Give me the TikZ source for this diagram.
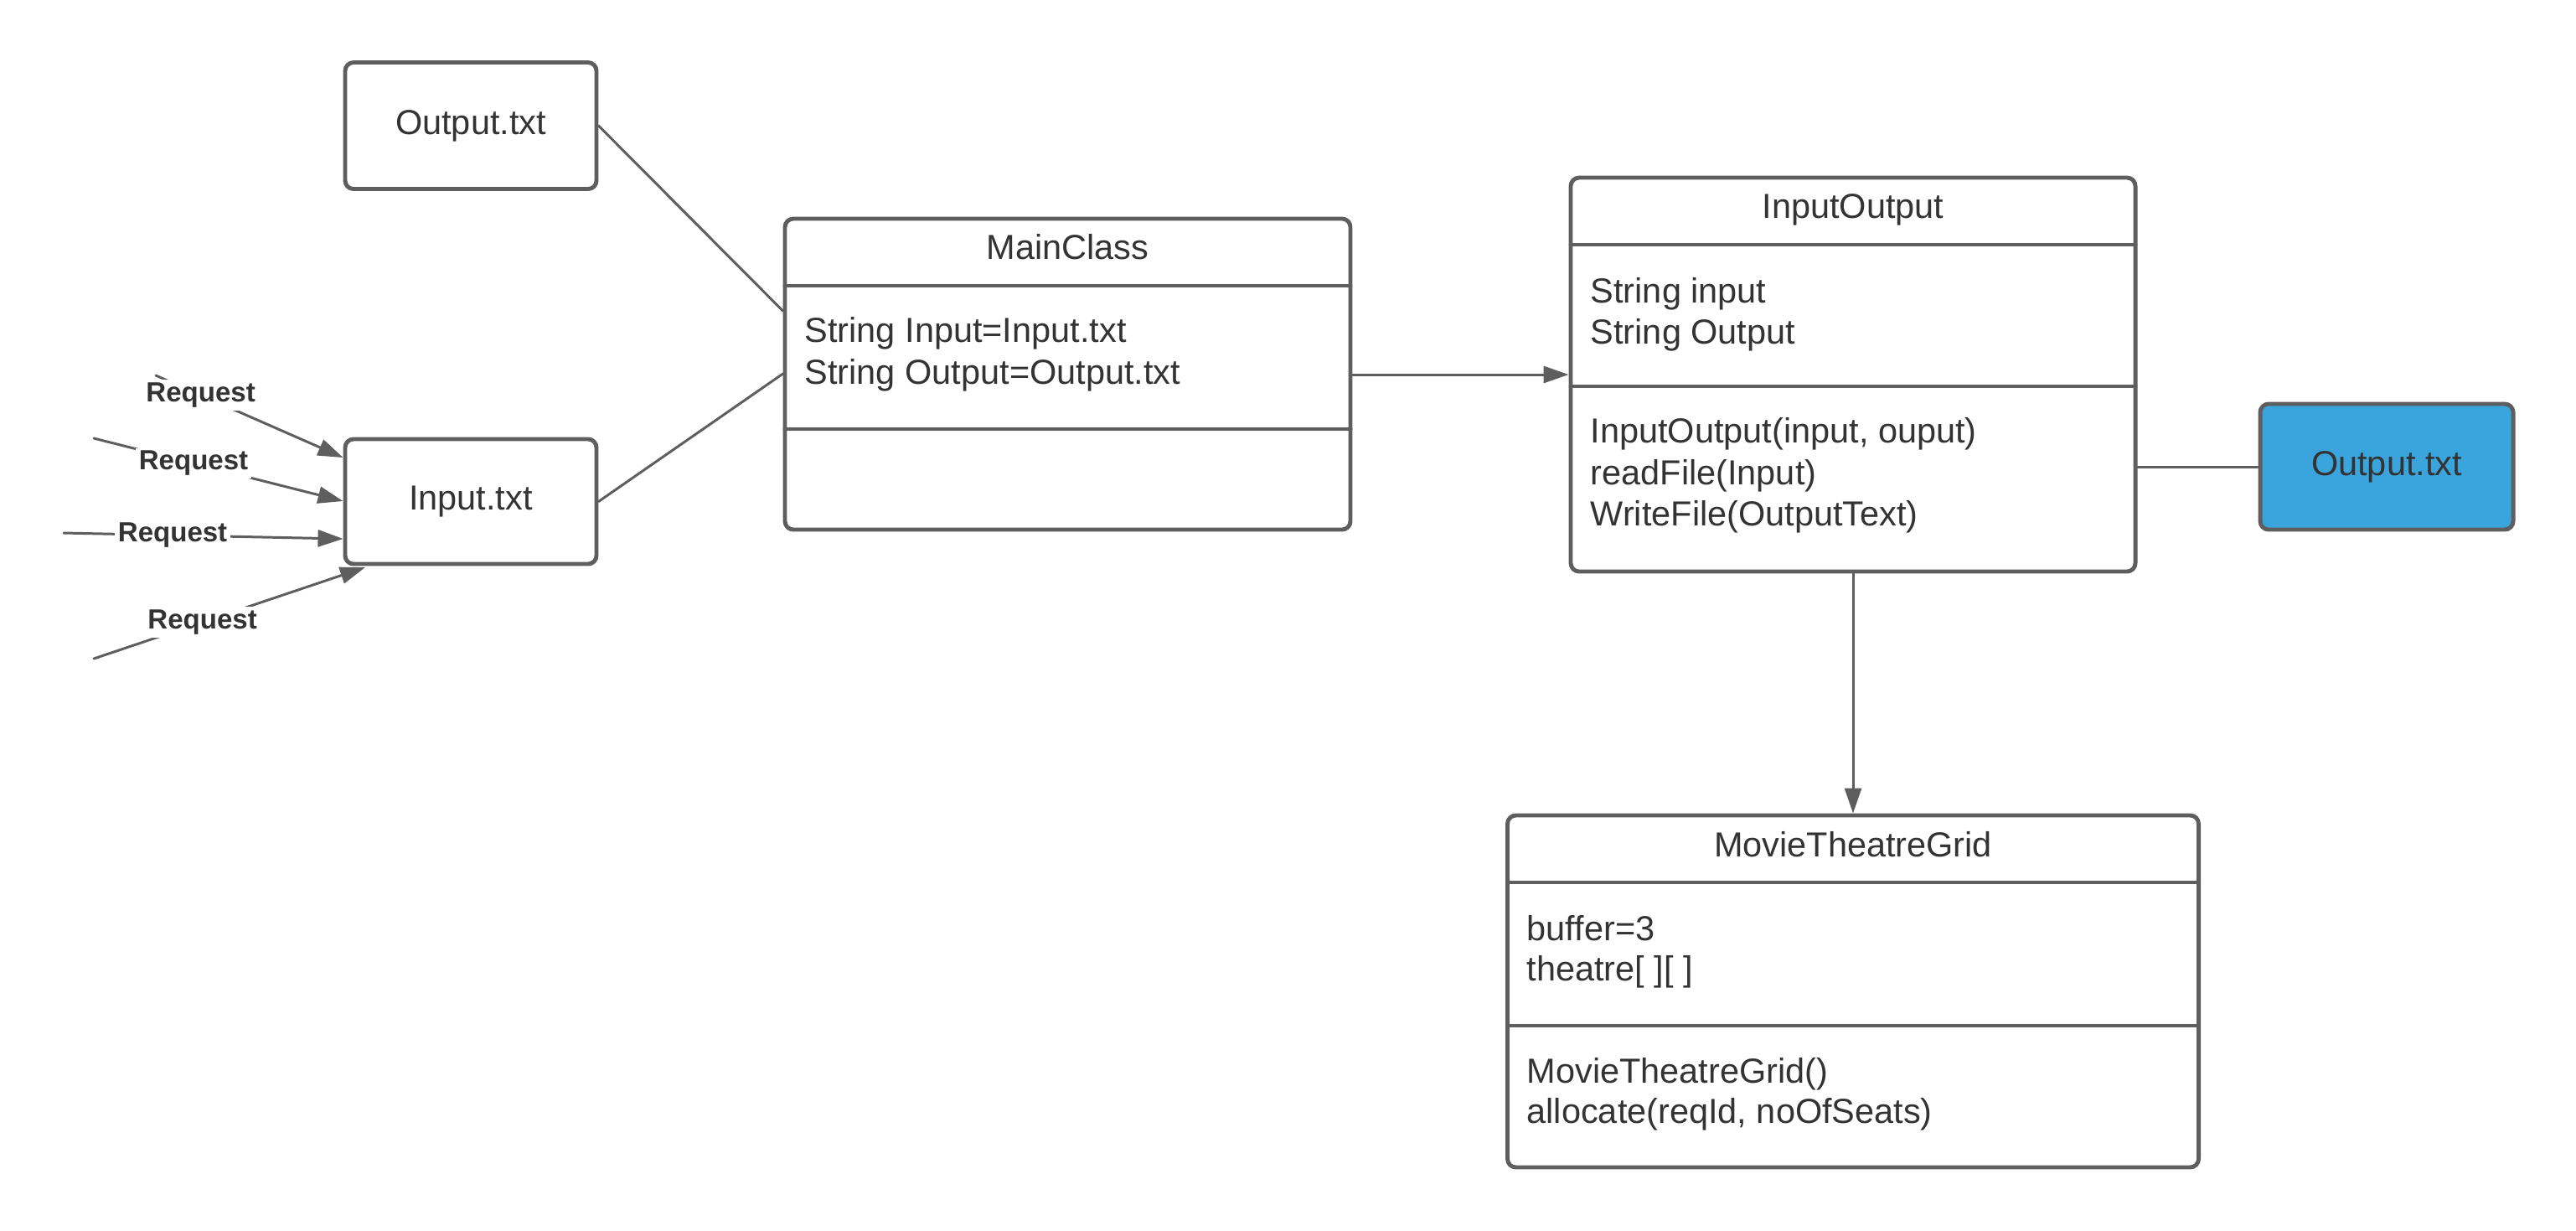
\documentclass[tikz,border=0pt]{standalone}
\usepackage{fontspec}
\setmainfont{Liberation Sans}
\usetikzlibrary{arrows.meta}
\definecolor{linegray}{RGB}{94, 94, 94}
\definecolor{textgray}{RGB}{51, 51, 51}
\definecolor{fileblue}{RGB}{58, 164, 220}
\tikzset{
	box/.style={draw=linegray, line width=1.4pt, rounded corners=0.1cm, inner sep=0pt},
	boxtext/.style={text=textgray, font=\fontsize{11.8}{14}\selectfont},
	member/.style={boxtext, anchor=base west, inner sep=0pt},
	divider/.style={draw=linegray, line width=1.4pt},
	link/.style={draw=linegray, line width=0.85pt},
	req/.style={text=textgray, font=\bfseries\fontsize{9.4}{11}\selectfont, fill=white, inner sep=1pt}
}
\begin{document}
\begin{tikzpicture}[>={Triangle[length=0.3cm, width=0.2cm]}, line cap=round, line join=round, y=-1cm]
			\useasboundingbox (0, 0) rectangle (30.75, 14.68);
			% files
			\node[box, boxtext, minimum width=3cm, minimum height=1.51cm] (outfile) at (5.62, 1.5) {Output.txt};
			\node[box, boxtext, minimum width=3cm, minimum height=1.49cm] (infile) at (5.62, 5.985) {Input.txt};
			\node[box, boxtext, fill=fileblue, minimum width=3.02cm, minimum height=1.5cm] (result) at (28.49, 5.57) {Output.txt};
			% MainClass
			\node[box, minimum width=6.75cm, minimum height=3.71cm] (main) at (12.745, 4.465) {};
			\node[boxtext, anchor=base] (maintitle) at (12.745, 3.09) {MainClass};
			\draw[divider] (9.37, 3.41) -- (16.12, 3.41);
			\draw[divider] (9.37, 5.12) -- (16.12, 5.12);
			\node[member] (mainin) at (9.6, 4.08) {String Input=Input.txt};
			\node[member] (mainout) at (9.6, 4.58) {String Output=Output.txt};
			% InputOutput
			\node[box, minimum width=6.74cm, minimum height=4.7cm] (io) at (22.12, 4.47) {};
			\node[boxtext, anchor=base] (iotitle) at (22.12, 2.6) {InputOutput};
			\draw[divider] (18.75, 2.92) -- (25.49, 2.92);
			\draw[divider] (18.75, 4.61) -- (25.49, 4.61);
			\node[member] (ioin) at (18.98, 3.61) {String input};
			\node[member] (ioout) at (18.98, 4.1) {String Output};
			\node[member] (ioctor) at (18.98, 5.28) {InputOutput(input, ouput)};
			\node[member] (ioread) at (18.98, 5.78) {readFile(Input)};
			\node[member] (iowrite) at (18.98, 6.27) {WriteFile(OutputText)};
			% MovieTheatreGrid
			\node[box, minimum width=8.25cm, minimum height=4.2cm] (grid) at (22.12, 11.83) {};
			\node[boxtext, anchor=base] (gridtitle) at (22.12, 10.22) {MovieTheatreGrid};
			\draw[divider] (17.995, 10.53) -- (26.245, 10.53);
			\draw[divider] (17.995, 12.24) -- (26.245, 12.24);
			\node[member] (gridbuf) at (18.22, 11.22) {buffer=3};
			\node[member] (gridseats) at (18.22, 11.7) {theatre[ ][ ]};
			\node[member] (gridctor) at (18.22, 12.92) {MovieTheatreGrid()};
			\node[member] (gridalloc) at (18.22, 13.4) {allocate(reqId, noOfSeats)};
			% connectors
			\draw[link] (outfile.east) -- (main.west |- 0, 3.71);
			\draw[link] (infile.east) -- (main.west |- 0, 4.46);
			\draw[link, ->] (main.east |- 0, 4.47) -- (io.west |- 0, 4.47);
			\draw[link] (io.east |- 0, 5.57) -- (result.west);
			\draw[link, ->] (io.south) -- (grid.north);
			% requests
			\coordinate (r1) at (1.86, 4.48);
			\coordinate (r2) at (1.12, 5.23);
			\coordinate (r3) at (0.76, 6.36);
			\coordinate (r4) at (1.12, 7.86);
			\draw[link, ->] (r1) -- node[req, pos=0.24] (req1) {Request} (infile.west |- 0, 5.46);
			\draw[link, ->] (r2) -- node[req, pos=0.40] (req2) {Request} (infile.west |- 0, 5.98);
			\draw[link, ->] (r3) -- node[req, pos=0.39] (req3) {Request} (infile.west |- 0, 6.43);
			\draw[link, ->] (r4) -- node[req, pos=0.40] (req4) {Request} (4.36, 6.77);
		\end{tikzpicture}
\end{document}
